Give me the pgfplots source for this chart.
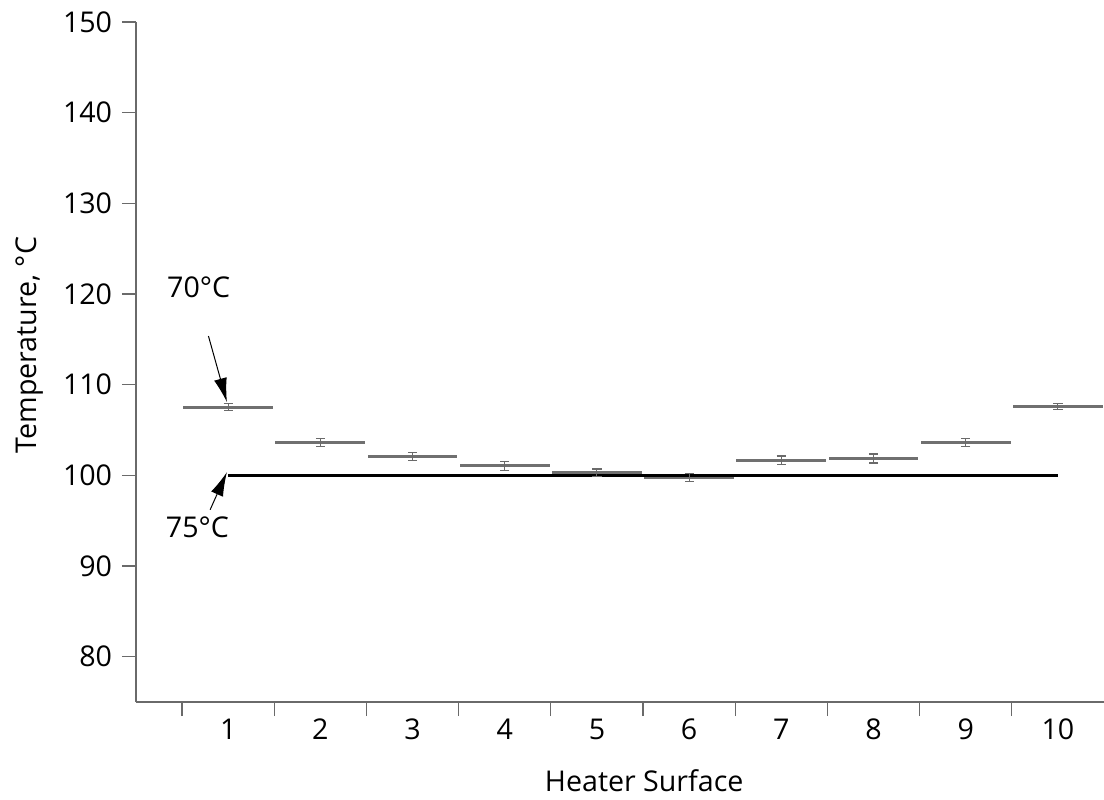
\documentclass[border=0pt]{standalone}
\usepackage{fontspec}
\setmainfont{Open Sans}
\usepackage{pgfplots}
\usepackage{pgfplotstable}
\pgfplotsset{compat=1.18}
\usetikzlibrary{arrows.meta}
\definecolor{axgray}{HTML}{6A6A6A}
\definecolor{bargray}{HTML}{707070}
\pgfplotstableread{
x y err
1 107.53 0.37
2 103.66 0.44
3 102.08 0.48
4 101.05 0.52
5 100.31 0.40
6 99.76 0.44
7 101.68 0.46
8 101.86 0.50
9 103.59 0.44
10 107.60 0.35
}\data
\begin{document}
\fontsize{14.3pt}{17pt}\selectfont
\begin{tikzpicture}
\path[use as bounding box] (-68pt,-48.5pt) rectangle (484pt,351pt);
\begin{axis}[
  scale only axis, width=484pt, height=340pt,
  xmin=0, xmax=10.5, ymin=75, ymax=150,
  axis x line*=bottom, axis y line*=left,
  axis line style={axgray, line width=0.8pt},
  tick style={axgray, line width=0.6pt},
  tick align=outside,
  major tick length=7pt, minor tick length=7pt,
  xtick={1,...,10},
  major x tick style={draw=none},
  minor xtick={0.5,1.5,...,9.5},
  ytick={80,90,...,150},
  /pgf/number format/assume math mode=true,
  tick label style={font=\fontsize{14.3pt}{17pt}\selectfont},
  xticklabel style={anchor=base, yshift=-11.5pt},
  xlabel={Heater Surface},
  ylabel={Temperature, °C},
  xlabel style={at={(axis description cs:0.525,-0.1309)}, anchor=base},
  ylabel style={at={(axis description cs:-0.1023,0.525)}, anchor=base},
  clip=false,
]
\addplot[draw=none, mark=none, forget plot,
  error bars/.cd, x dir=both, x fixed=0.487, error mark=none,
  error bar style={draw=bargray, line width=1.5pt}]
  table[x=x, y=y] {\data};
\addplot[black, line width=1.8pt, mark=none] coordinates {(1,100) (10,100)};
\addplot[draw=none, mark=none, forget plot,
  error bars/.cd, y dir=both, y explicit, error mark=|,
  error bar style={draw=axgray, line width=0.5pt},
  error mark options={draw=axgray, mark size=2.3pt, line width=0.6pt}]
  table[x=x, y=y, y error=err] {\data};
\node at (axis cs:0.68,120.74) {70°C};
\draw[line width=0.5pt, -{Latex[length=12pt, width=6.5pt]}] (axis cs:0.786,115.36) -- (axis cs:0.986,108.08);
\node at (axis cs:0.666,94.28) {75°C};
\draw[line width=0.5pt, -{Latex[length=12pt, width=6.5pt]}] (axis cs:0.804,96.2) -- (axis cs:0.986,100.35);
\end{axis}
\end{tikzpicture}
\end{document}
